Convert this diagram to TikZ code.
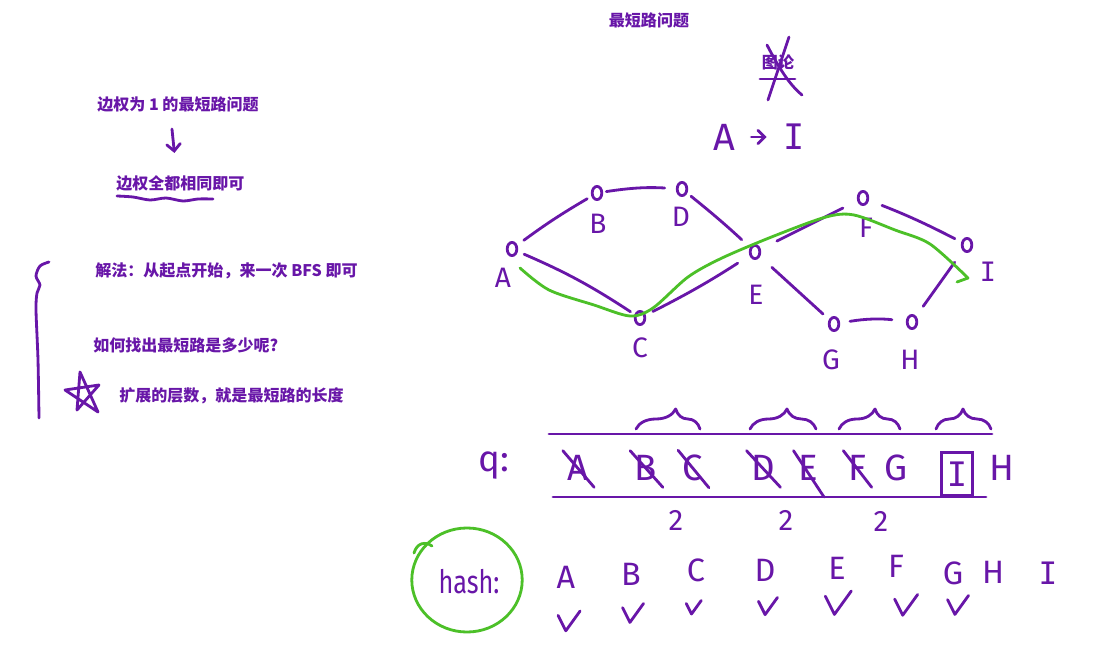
\documentclass[tikz,border=0pt]{standalone}
\usepackage{fontspec}
\usepackage{xcolor}
\usetikzlibrary{arrows,shapes,decorations.pathreplacing}
\newfontfamily\cjk{Noto Sans CJK SC}
\newfontfamily\hand{Fira Sans}
\newfontfamily\handn{Fira Sans}[FakeStretch=0.78]
\newfontfamily\handi{DejaVu Sans Mono}
\definecolor{ink}{RGB}{104,22,168}
\definecolor{marker}{RGB}{76,192,40}

\tikzset{
	pen/.style={draw=ink, line width=2pt, line cap=round, line join=round},
	hl/.style={draw=marker, line width=2pt, line cap=round, line join=round},
	note/.style={text=ink, font=\cjk\bfseries\fontsize{11.4}{14}\selectfont, inner sep=0pt},
	vtx/.style={pen, ellipse, minimum width=0.24cm, minimum height=0.33cm, inner sep=0pt},
	lbl/.style={text=ink, font=\hand\fontsize{20}{22}\selectfont, inner sep=1pt},
	qlbl/.style={text=ink, font=\hand\fontsize{26}{28}\selectfont, inner sep=1pt},
	hlbl/.style={text=ink, font=\hand\fontsize{23}{25}\selectfont, inner sep=1pt},
	grp/.style={pen, decorate, decoration={brace, amplitude=0.5cm, aspect=#1}},
}

\begin{document}
\begin{tikzpicture}[x=0.025cm, y=-0.025cm]
	\fill[white] (0,0) rectangle (1098,650);
	\useasboundingbox (0,0) rectangle (1098,650);
	%
	% left notes
	\node[note, anchor=west] (n1) at (97,104) {边权为 1 的最短路问题};
	\node[note, anchor=west] (n2) at (116,183) {边权全都相同即可};
	\node[note, anchor=west] (n3) at (95,271) {解法：从起点开始，来一次 BFS 即可};
	\node[note, anchor=west] (n4) at (93,345) {如何找出最短路是多少呢?};
	\node[note, anchor=west] (n5) at (119,396) {扩展的层数，就是最短路的长度};
	\draw[pen,->,>=angle 90] ([shift={(-6,17)}]n1.south) -- ([shift={(-6,-22)}]n2.north);
	\draw[pen] plot[smooth] coordinates {(117,196) (133,197) (150,200) (166,198) (183,201) (198,199) (213,199)};
	\draw[pen] plot[smooth] coordinates {(49,262) (40,266) (36,276) (40,285) (37,293) (36,310) (38,360) (39,418)};
	\draw[pen] (80,372) -- (98,412) -- (65,390) -- (99,385) -- (77,410) -- cycle;
	%
	% title
	\node[note] (title) at (649,20) {最短路问题};
	\node[note] (topic) at (778,62) {图论};
	\draw[pen] (789,37) -- (768,100);
	\draw[pen] (767,45) .. controls (780,70) and (790,85) .. (802,95);
	\draw[pen] (760,79) -- (795,79);
	\node[qlbl, font=\hand\fontsize{27}{29}\selectfont] (src) at (724,137) {A};
	\node[qlbl, font=\handi\fontsize{25}{27}\selectfont] (dst) at (794,137) {I};
	\draw[pen,->,>=angle 90, shorten <=0.37cm, shorten >=0.38cm] (src) -- (dst);
	%
	% graph
	\node[vtx] (A) at (512,249) {};
	\node[vtx] (B) at (597,193) {};
	\node[vtx] (D) at (682,189) {};
	\node[vtx] (E) at (755,252) {};
	\node[vtx] (F) at (863,198) {};
	\node[vtx] (I) at (967,245) {};
	\node[vtx] (C) at (640,318) {};
	\node[vtx] (G) at (834,324) {};
	\node[vtx] (H) at (912,322) {};
	\foreach \n/\x/\y in {A/503/278, B/598/224, D/681/217, E/756/295, F/866/228, C/640/348, G/831/360, H/910/360}
		\node[lbl] (l\n) at (\x,\y) {\n};
	\node[lbl, font=\handi\fontsize{19}{21}\selectfont] (lI) at (988,272) {I};
	%
	\path[pen]
	(A) edge[bend left=3, shorten <=0.2cm, shorten >=0.12cm] (B)
		edge[bend left=5, shorten <=0.17cm, shorten >=0.12cm] (C)
	(B) edge[bend left=6, shorten <=0.08cm, shorten >=0.28cm] (D)
	(D) edge[bend left=2, shorten <=0.12cm, shorten >=0.28cm] (E)
	(C) edge[bend right=3, shorten <=0.2cm, shorten >=0.35cm] (E)
	(E) edge[shorten <=0.45cm, shorten >=0.4cm] (F)
		edge[shorten <=0.4cm, shorten >=0.2cm] (G)
	(F) edge[bend left=3, shorten <=0.35cm, shorten >=0.18cm] (I)
	(G) edge[bend left=8, shorten <=0.25cm, shorten >=0.35cm] (H)
	(I) edge[shorten <=0.35cm, shorten >=0.3cm] (H);
	%
	\draw[hl] plot[smooth] coordinates {(520,268) (549,290) (594,305) (630,316) (653,308) (688,277) (722,258) (774,236) (826,217) (854,215) (895,230) (930,244) (968,278)} -- (957,282);
	%
	% queue
	\node[qlbl] (q) at (494,466) {q:};
	\draw[pen] (549,434) -- (992,434);
	\draw[pen] (553,497) -- (986,497);
	\foreach \n/\x in {A/578, B/646, C/693, D/763, E/808, F/857, G/896, H/1002}
		\node[qlbl] (q\n) at (\x,468) {\n};
	\node[qlbl, font=\handi\fontsize{24}{26}\selectfont, draw=ink, line width=2pt, minimum width=0.78cm, minimum height=1.08cm] (qI) at (957,474) {I};
	\foreach \n in {A,B,C,D,F}
		\draw[pen] ([shift={(-3,-3)}]q\n.north west) -- ([shift={(4,5)}]q\n.south east);
	\draw[pen] ([shift={(-3,-3)}]qE.north west) -- (824,497);
	%
	\draw[grp=0.62] (636,429) -- (700,429);
	\draw[grp=0.56] (750,429) -- (816,429);
	\draw[grp=0.59] (839,429) -- (900,429);
	\draw[grp=0.49] (936,429) -- (991,429);
	\foreach \x/\y [count=\k] in {676/520, 786/520, 881/521}
		\node[lbl, font=\hand\fontsize{21}{23}\selectfont] (two\k) at (\x,\y) {2};
	%
	% hash
	\node[hlbl, font=\handn\fontsize{23}{25}\selectfont] (hash) at (469,582) {hash:};
	\draw[hl] (467,580) ellipse [x radius=1.38cm, y radius=1.3cm];
	\draw[hl] (414,553) .. controls (417,543) and (425,541) .. (432,546);
	\foreach \n/\x/\y in {A/566/577, B/631/574, C/696/570, D/765/570, E/837/568, F/896/566, G/953/573, H/993/572}
		\node[hlbl] (h\n) at (\x,\y) {\n};
	\node[hlbl, font=\handi\fontsize{22}{24}\selectfont] (hI) at (1048,573) {I};
	\foreach \n/\dx/\dy/\s in {A/2/45/1.1, B/1/40/1.05, C/-3/38/0.75, D/2/37/0.95, E/0/36/1.3, F/9/40/1.15, G/4/33/1.05}
		\draw[pen] ([shift={(\dx-9*\s,\dy-6*\s)}]h\n.center) -- ++(7*\s,14*\s) -- ++(13*\s,-18*\s);
\end{tikzpicture}
\end{document}
